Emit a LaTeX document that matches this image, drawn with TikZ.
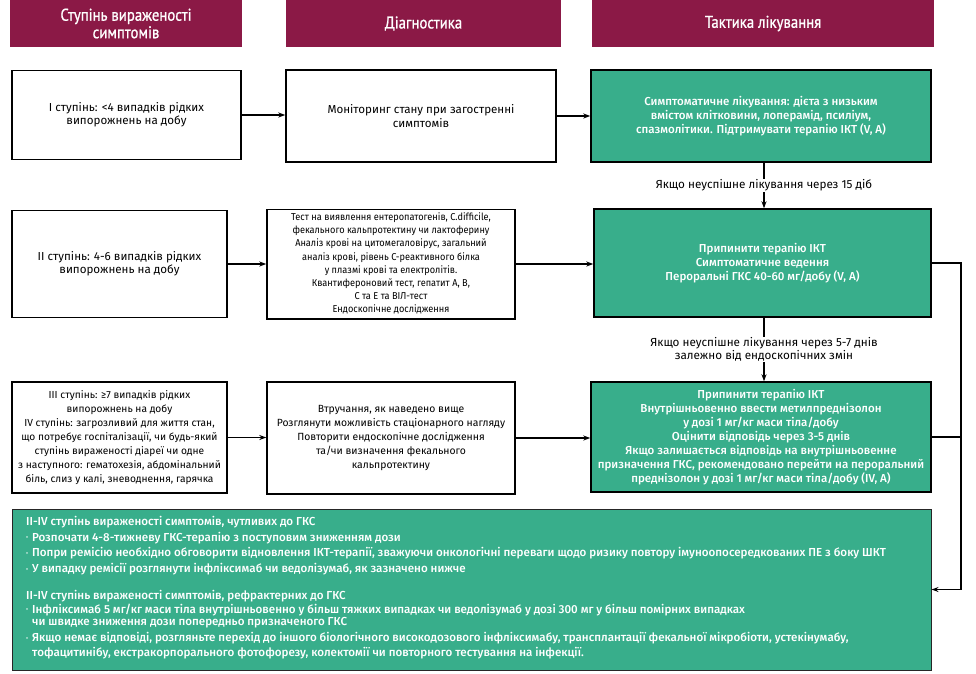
\documentclass[tikz,border=0pt]{standalone}
\usepackage{graphicx}
\usepackage{fontspec}
\setmainfont{Fira Sans}
\newfontfamily\gfont{Fira Sans Medium}
\newfontfamily\hfont[FakeStretch=0.87,FakeBold=1]{PT Sans}
\usetikzlibrary{arrows.meta}
\definecolor{hdr}{RGB}{139,25,70}
\definecolor{grn}{RGB}{56,174,139}
\newcommand\bul{\makebox[6pt][l]{\raisebox{1.5pt}{\fontsize{6}{6}\selectfont •}}}
\newcommand\ind{\hspace*{6pt}}
\tikzset{
  hbox/.style={fill=hdr, text=white, align=center, inner sep=0pt, font=\hfont\fontsize{17}{17.5}\selectfont},
  wbox/.style={draw=black, line width=1.4pt, fill=white, align=center, inner sep=2pt, font=\fontsize{11.6}{13.4}\selectfont},
  cbox/.style={wbox, font=\fontsize{10}{13.2}\selectfont},
  gbox/.style={wbox, fill=grn, text=white, font=\gfont\fontsize{11.55}{14}\selectfont},
  arr/.style={line width=1.2pt, -{Stealth[length=7pt,width=5pt]}},
  plain/.style={line width=1.2pt},
  lbl/.style={fill=white, inner sep=1pt, align=center, font=\fontsize{11.7}{13}\selectfont}
}
\begin{document}
\begin{tikzpicture}[x=1pt,y=-1pt]
\useasboundingbox (0,0) rectangle (976,673);
% headers
\node[hbox, minimum width=232pt, minimum height=47pt] (h1) at (126,23.5) {Ступінь вираженості\\симптомів};
\node[hbox, minimum width=275pt, minimum height=47pt] (h2) at (423.5,23.5) {Діагностика};
\node[hbox, minimum width=342pt, minimum height=47pt] (h3) at (763,23.5) {Тактика лікування};
% row 1
\node[wbox, minimum width=229pt, minimum height=89pt] (l1) at (126.5,115) {І ступінь: <4 випадків рідких\\випорожнень на добу};
\node[wbox, minimum width=270pt, minimum height=92pt] (m1) at (421,116) {Моніторинг стану при загостренні\\симптомів};
\node[gbox, minimum width=340pt, minimum height=92pt] (g1) at (761,116) {Симптоматичне лікування: дієта з низьким\\вмістом клітковини, лоперамід, псиліум,\\спазмолітики. Підтримувати терапію ІКТ (V, A)};
% row 2
\node[wbox, minimum width=215pt, minimum height=107pt] (l2) at (119.5,264) {ІІ ступінь: 4-6 випадків рідких\\випорожнень на добу};
\node[cbox, minimum width=248pt, minimum height=108pt] (m2) at (391,264) {\scalebox{0.92}[1]{\begin{tabular}{@{}c@{}}Тест на виявлення ентеропатогенів, C.difficile,\\фекального кальпротектину чи лактоферину\\Аналіз крові на цитомегаловірус, загальний\\аналіз крові, рівень С-реактивного білка\\у плазмі крові та електролітів.\\Квантифероновий тест, гепатит А, В,\\С та Е та ВІЛ-тест\\Ендоскопічне дослідження\end{tabular}}};
\node[gbox, minimum width=337pt, minimum height=108pt] (g2) at (762.5,263) {Припинити терапію ІКТ\\Симптоматичне ведення\\Пероральні ГКС 40-60 мг/добу (V, A)};
% row 3
\node[wbox, font=\fontsize{10.2}{14}\selectfont, minimum width=215pt, minimum height=111pt] (l3) at (119.5,437.5) {ІІІ ступінь: ≥7 випадків рідких\\випорожнень на добу\\IV ступінь: загрозливий для життя стан,\\що потребує госпіталізації, чи будь-який\\ступінь вираженості діареї чи одне\\з наступного: гематохезія, абдомінальний\\біль, слиз у калі, зневоднення, гарячка};
\node[wbox, font=\fontsize{10.4}{14}\selectfont, minimum width=248pt, minimum height=112pt] (m3) at (391,438) {Втручання, як наведено вище\\Розглянути можливість стаціонарного нагляду\\Повторити ендоскопічне дослідження\\та/чи визначення фекального\\кальпротектину};
\node[gbox, minimum width=340pt, minimum height=110pt] (g3) at (761,437) {Припинити терапію ІКТ\\Внутрішньовенно ввести метилпреднізолон\\у дозі 1 мг/кг маси тіла/добу\\Оцінити відповідь через 3-5 днів\\Якщо залишається відповідь на внутрішньовенне\\призначення ГКС, рекомендовано перейти на пероральний\\преднізолон у дозі 1 мг/кг маси тіла/добу (IV, A)};
% bottom box
\node[draw=black!85, line width=1pt, fill=grn, minimum width=919pt, minimum height=161pt, inner sep=0pt] (b) at (471.5,589.5) {};
\node[anchor=north west, align=left, inner sep=0pt, text=white, font=\gfont\fontsize{11.6}{15.7}\selectfont] (bt) at (26,516) {%
ІІ-IV ступінь вираженості симптомів, чутливих до ГКС\\
\bul Розпочати 4-8-тижневу ГКС-терапію з поступовим зниженням дози\\
\bul Попри ремісію необхідно обговорити відновлення ІКТ-терапії, зважуючи онкологічні переваги щодо ризику повтору імуноопосередкованих ПЕ з боку ШКТ\\
\bul У випадку ремісії розглянути інфліксимаб чи ведолізумаб, як зазначено нижче\\[11pt]
ІІ-IV ступінь вираженості симптомів, рефрактерних до ГКС\\[-1.5pt]
\bul Інфліксимаб 5 мг/кг маси тіла внутрішньовенно у більш тяжких випадках чи ведолізумаб у дозі 300 мг у більш помірних випадках\\[-3.5pt]
\ind чи швидке зниження дози попередньо призначеного ГКС\\[0.5pt]
\bul Якщо немає відповіді, розгляньте перехід до іншого біологічного високодозового інфліксимабу, трансплантації фекальної мікробіоти, устекінумабу,\\[-1.5pt]
\ind тофацитинібу, екстракорпорального фотофорезу, колектомії чи повторного тестування на інфекції.};
% horizontal arrows
\draw[arr] (l1.east) -- (l1.east -| m1.west);
\draw[arr] (m1.east) -- (m1.east -| g1.west);
\draw[arr] (l2.east) -- (l2.east -| m2.west);
\draw[arr] (m2.east) -- (m2.east -| g2.west);
\draw[arr] (l3.east) -- (l3.east -| m3.west);
\draw[arr] (m3.east) -- (m3.east -| g3.west);
% vertical arrows with labels
\coordinate (v) at (764,0);
\draw[arr] (g1.south -| v) -- node[lbl] (t1) {Якщо неуспішне лікування через 15 діб} (g2.north -| v);
\draw[arr] (g2.south -| v) -- node[lbl] (t2) {Якщо неуспішне лікування через 5-7 днів\\залежно від ендоскопічних змін} (g3.north -| v);
% right connector
\coordinate (rc) at (961,0);
\draw[arr] (g2.east) -- (g2.east -| rc) |- (b.east);
\draw[plain] (g3.east) -- (g3.east -| rc);
\end{tikzpicture}
\end{document}
